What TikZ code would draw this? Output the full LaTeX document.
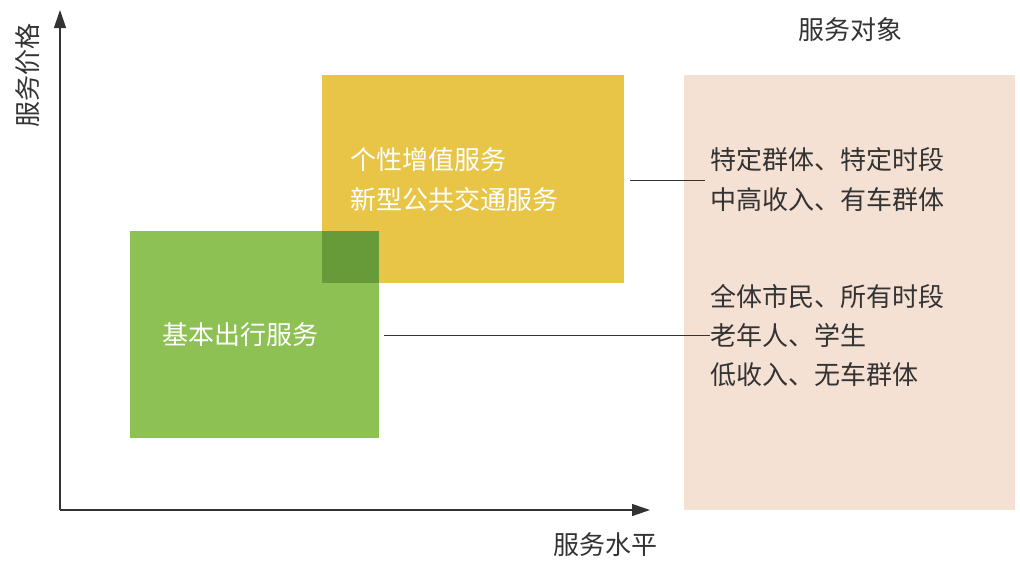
\documentclass[tikz,border=0pt]{standalone}
\usepackage{fontspec}
\setmainfont{Noto Sans CJK SC}
\usetikzlibrary{arrows.meta}
\definecolor{yel}{HTML}{E8C547}
\definecolor{grn}{HTML}{8DC153}
\definecolor{dgrn}{HTML}{679A38}
\definecolor{peach}{HTML}{F5E1D3}
\definecolor{txt}{HTML}{333333}
\begin{document}
\begin{tikzpicture}[x=0.5pt,y=-0.5pt,
  lbl/.style={font=\fontsize{13}{15}\selectfont,text=txt,inner sep=0},
  wlbl/.style={font=\fontsize{13}{15}\selectfont,text=white,inner sep=0,anchor=west},
  rlbl/.style={lbl,anchor=west},
  conn/.style={draw=txt,line width=0.5pt}]
\useasboundingbox (0,0) rectangle (1020,570);
\fill[peach] (684,75) rectangle (1015,510);
\fill[yel] (322,75) rectangle (624,283);
\fill[grn] (130,231) rectangle (379,438);
\fill[dgrn] (322,231) rectangle (379,283);
\coordinate (o) at (60,510);
\coordinate (ytop) at (60,10);
\coordinate (xend) at (650,510);
\draw[txt,line width=0.6pt,-{Triangle[length=9pt,width=6pt]}] (o) -- (ytop);
\draw[txt,line width=0.6pt,-{Triangle[length=9pt,width=6pt]}] (o) -- (xend);
\node[lbl,rotate=90] (yl) at (28,75) {服务价格};
\node[lbl] (xl) at (605,545) {服务水平};
\node[lbl] (tl) at (850,30) {服务对象};
\node[wlbl] (y1) at (350,160) {个性增值服务};
\node[wlbl] (y2) at (350,200) {新型公共交通服务};
\node[wlbl] (g1) at (162,335) {基本出行服务};
\node[rlbl] (r1) at (710,160) {特定群体、特定时段};
\node[rlbl] (r2) at (710,200) {中高收入、有车群体};
\node[rlbl] (r3) at (710,297) {全体市民、所有时段};
\node[rlbl] (r4) at (710,335) {老年人、学生};
\node[rlbl] (r5) at (710,375) {低收入、无车群体};
\coordinate (a1) at (630,180);
\coordinate (a2) at (705,180);
\coordinate (b1) at (384,335);
\draw[conn] (a1) -- (a2);
\draw[conn] (b1) -- (r4.west);
\end{tikzpicture}
\end{document}
